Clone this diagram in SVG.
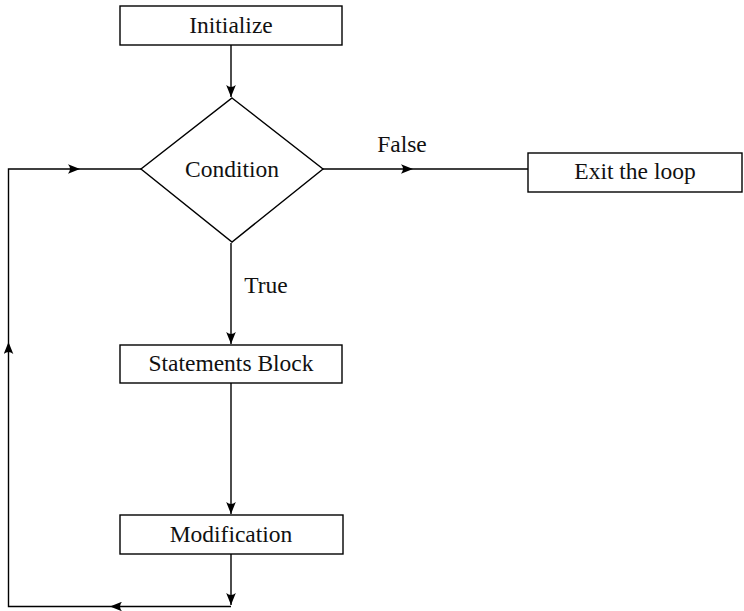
<svg xmlns="http://www.w3.org/2000/svg" width="744" height="611" viewBox="0 0 744 611">
<defs>
<marker id="ah" markerWidth="14" markerHeight="10" viewBox="-12 -5 14 10" refX="0" refY="0" orient="auto" markerUnits="userSpaceOnUse">
<path d="M0,0 L-12,-4.8 Q-8,0 -12,4.8 Z" fill="#000"/>
</marker>
<style>
.box{fill:#fff;stroke:#000;stroke-width:1.4}
.ln{fill:none;stroke:#000;stroke-width:1.4}
text{font-family:"Liberation Serif","Times New Roman",serif;font-size:23.5px;fill:#111;text-anchor:middle}
</style>
</defs>
<g id="connectors">
<path class="ln" d="M231,45 V97" marker-end="url(#ah)"/>
<path class="ln" d="M231,243 V344" marker-end="url(#ah)"/>
<path class="ln" d="M231,383 V514" marker-end="url(#ah)"/>
<path class="ln" d="M231,554 V605" marker-end="url(#ah)"/>
<path class="ln" d="M323,169 H413" marker-end="url(#ah)"/>
<path class="ln" d="M413,169 H528"/>
<path class="ln" d="M231,606.5 H110" marker-end="url(#ah)"/>
<path class="ln" d="M110,606.5 H8.5 V342" marker-end="url(#ah)"/>
<path class="ln" d="M8.5,342 V169 H80" marker-end="url(#ah)"/>
<path class="ln" d="M80,169 H141"/>
<text x="402" y="152">False</text>
<text x="266" y="293">True</text>
</g>
<g id="initialize">
<rect class="box" x="120" y="6" width="222" height="39"/>
<text x="231" y="33">Initialize</text>
</g>
<g id="condition">
<polygon class="box" points="232,98 323,169 232,242 141,169"/>
<text x="232" y="177">Condition</text>
</g>
<g id="exit">
<rect class="box" x="528" y="153" width="214" height="39"/>
<text x="635" y="178.5">Exit the loop</text>
</g>
<g id="statements">
<rect class="box" x="120" y="345" width="222" height="38"/>
<text x="231" y="370.5">Statements Block</text>
</g>
<g id="modification">
<rect class="box" x="120" y="515" width="223" height="39"/>
<text x="231" y="541.5">Modification</text>
</g>
</svg>
